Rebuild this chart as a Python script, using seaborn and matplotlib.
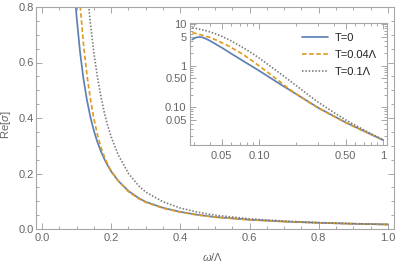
import matplotlib
matplotlib.use('Agg')
import matplotlib.pyplot as plt
import seaborn as sns
from matplotlib.ticker import FixedLocator, FixedFormatter, MultipleLocator, NullFormatter

# omega / Lambda sample points
omega = [0.029, 0.031, 0.033, 0.035, 0.037, 0.04, 0.045, 0.05, 0.055, 0.06,
         0.07, 0.08, 0.09, 0.1, 0.11, 0.12, 0.13, 0.14, 0.15, 0.16,
         0.17, 0.18, 0.19, 0.2, 0.22, 0.25, 0.28, 0.3, 0.35, 0.4,
         0.45, 0.5, 0.6, 0.7, 0.8, 0.9, 1.0]

# Re[sigma]
re_t0 = [4.3, 4.8, 4.95, 4.85, 4.55, 4.05, 3.3, 2.75, 2.3, 1.95,
         1.47, 1.15, 0.93, 0.765, 0.638, 0.54, 0.464, 0.403, 0.354, 0.314,
         0.281, 0.2525, 0.2285, 0.2075, 0.174, 0.137, 0.111, 0.0978, 0.0763, 0.0617,
         0.0511, 0.0432, 0.0334, 0.0269, 0.0223, 0.0189, 0.0163]
re_t004 = [6.3, 6.0, 5.7, 5.45, 5.2, 4.85, 4.2, 3.62, 3.15, 2.75,
           2.1, 1.62, 1.26, 1.0, 0.81, 0.665, 0.555, 0.468, 0.398, 0.341,
           0.296, 0.261, 0.2325, 0.2095, 0.174, 0.1345, 0.109, 0.096, 0.0749, 0.0606,
           0.0503, 0.0426, 0.0331, 0.0267, 0.0222, 0.0188, 0.0163]
re_t01 = [8.2, 7.95, 7.65, 7.35, 7.05, 6.6, 5.85, 5.15, 4.5, 3.95,
          3.05, 2.4, 1.92, 1.55, 1.26, 1.04, 0.87, 0.74, 0.635, 0.55,
          0.48, 0.42, 0.372, 0.332, 0.268, 0.2, 0.155, 0.133, 0.098, 0.0755,
          0.0605, 0.0498, 0.0367, 0.0285, 0.0231, 0.0193, 0.0165]

labels = ['T=0', 'T=0.04Λ', 'T=0.1Λ']
series = [re_t0, re_t004, re_t01]
colors = ['#5e81b5', '#e19c24', '#7a7a7a']
styles = ['-', (0, (2.6, 1.5)), (0, (0.9, 1.1))]
widths = [1.25, 1.25, 1.2]

sns.set_theme(style='ticks')
plt.rcParams['font.family'] = ['Liberation Sans', 'DejaVu Sans']
plt.rcParams['mathtext.fontset'] = 'custom'
plt.rcParams['mathtext.it'] = 'Liberation Sans:italic'
plt.rcParams['mathtext.rm'] = 'Liberation Sans'

frame_col = '#a6a6a6'
text_col = '#666666'

fig = plt.figure(figsize=(3.99, 2.65), dpi=100)
ax = fig.add_axes([36/399, 36/265, 357.5/399, 222/265])
ax_in = fig.add_axes([190/399, 120/265, 197/399, 122/265])

for a in (ax, ax_in):
    for y, lab, c, ls, lw in zip(series, labels, colors, styles, widths):
        sns.lineplot(x=omega, y=y, ax=a, color=c, linestyle=ls, lw=lw, label=lab, legend=False)
    for s in a.spines.values():
        s.set_color(frame_col)
        s.set_linewidth(0.8)
    a.tick_params(which='both', direction='in', top=True, right=True,
                  color=frame_col, labelcolor=text_col, labelsize=8, width=0.7)
    a.tick_params(which='major', length=4)
    a.tick_params(which='minor', length=2.3)

# main axes
ax.set_xlim(-0.0173, 1.016)
ax.set_ylim(0, 0.8)
ax.xaxis.set_minor_locator(MultipleLocator(0.05))
ax.yaxis.set_minor_locator(MultipleLocator(0.05))
ax.xaxis.set_major_locator(FixedLocator([0, 0.2, 0.4, 0.6, 0.8, 1.0]))
ax.xaxis.set_major_formatter(FixedFormatter(['0.0', '0.2', '0.4', '0.6', '0.8', '1.0']))
ax.yaxis.set_major_locator(FixedLocator([0, 0.2, 0.4, 0.6, 0.8]))
ax.yaxis.set_major_formatter(FixedFormatter(['0.0', '0.2', '0.4', '0.6', '0.8']))
ax.tick_params(axis='x', pad=3)
ax.tick_params(axis='y', pad=1.5)
ax.set_xlabel('$\\mathit{\\omega}$/Λ', color=text_col, fontsize=8)
ax.set_ylabel('Re[$\\mathit{\\sigma}$]', color=text_col, fontsize=8)
ax.xaxis.set_label_coords(0.495, -0.10)
ax.yaxis.set_label_coords(-0.065, 0.47)

# inset, log-log
ax_in.set_xscale('log')
ax_in.set_yscale('log')
ax_in.set_xlim(0.0278, 1.077)
ax_in.set_ylim(0.01235, 10.75)
ax_in.xaxis.set_major_locator(FixedLocator([0.05, 0.1, 0.5, 1]))
ax_in.xaxis.set_major_formatter(FixedFormatter(['0.05', '0.10', '0.50', '1']))
ax_in.xaxis.set_minor_locator(FixedLocator([0.03, 0.04, 0.06, 0.07, 0.08, 0.09,
                                            0.2, 0.3, 0.4, 0.6, 0.7, 0.8, 0.9]))
ax_in.xaxis.set_minor_formatter(NullFormatter())
ax_in.yaxis.set_major_locator(FixedLocator([0.05, 0.1, 0.5, 1, 5, 10]))
ax_in.yaxis.set_major_formatter(FixedFormatter(['0.05', '0.10', '0.50', '1', '5', '10']))
ax_in.yaxis.set_minor_locator(FixedLocator([0.02, 0.03, 0.04, 0.06, 0.07, 0.08, 0.09,
                                            0.2, 0.3, 0.4, 0.6, 0.7, 0.8, 0.9,
                                            2, 3, 4, 6, 7, 8, 9]))
ax_in.yaxis.set_minor_formatter(NullFormatter())
ax_in.tick_params(axis='x', pad=4)
ax_in.tick_params(axis='y', pad=2.5)
ax_in.set_xlabel('')
ax_in.set_ylabel('')
ax_in.set_facecolor('white')

leg = ax_in.legend(loc='upper right', bbox_to_anchor=(0.95, 0.915), frameon=False,
                   fontsize=8, handlelength=2.4, handletextpad=0.6,
                   labelspacing=0.6, borderpad=0, borderaxespad=0)
for t in leg.get_texts():
    t.set_color('#222222')

fig.savefig('out.png', dpi=100, facecolor='white')
